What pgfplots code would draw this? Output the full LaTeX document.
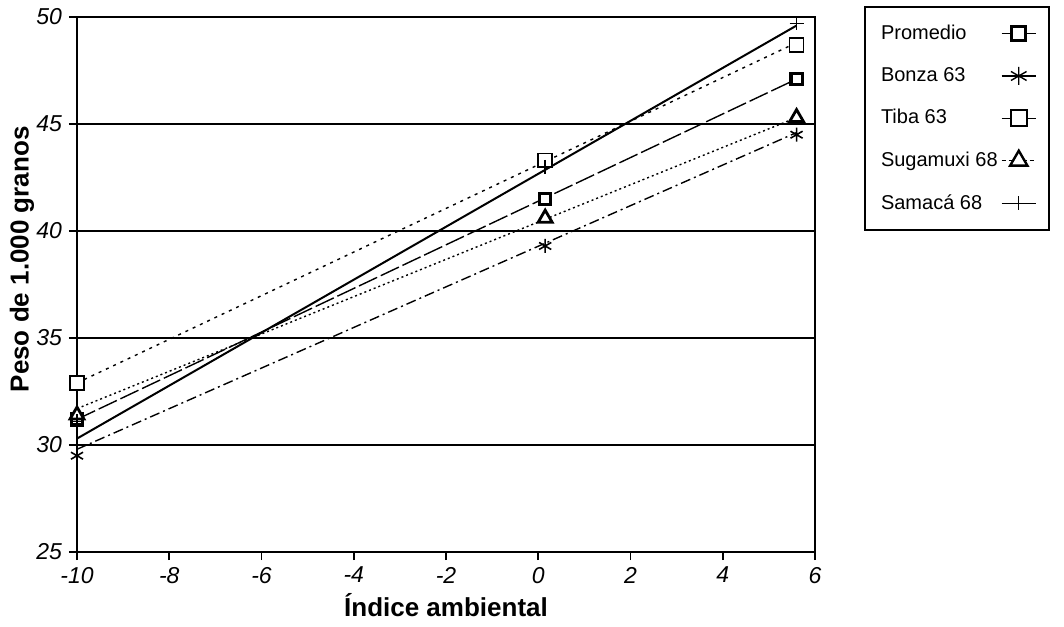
\documentclass[border=0pt]{standalone}
\usepackage{fontspec}
\setmainfont{Liberation Sans}
\usepackage{pgfplots}
\pgfplotsset{compat=1.18}

\begin{document}
\begin{tikzpicture}
\useasboundingbox (-38.5pt,-37pt) rectangle (493.5pt,276pt);
\begin{axis}[
  at={(0,0)}, anchor=south west,
  scale only axis, width=369pt, height=267.5pt,
  xmin=-10, xmax=6, ymin=25, ymax=50,
  xtick={-10,-8,-6,-4,-2,0,2,4,6},
  xticklabels={-10,-8,-6,-4,-2,0,2,4,6},
  ytick={25,30,35,40,45,50},
  yticklabels={25,30,35,40,45,50},
  tick label style={font=\fontsize{11.5}{13}\selectfont\itshape},
  xtick pos=bottom, ytick pos=left, tick align=outside,
  major tick length=4pt,
  tick style={black, line width=0.8pt},
  ymajorgrids, grid style={black, line width=0.9pt},
  axis line style={line width=1pt},
  xlabel={Índice ambiental},
  ylabel={Peso de 1.000 granos},
  label style={font=\fontsize{13}{15}\selectfont\bfseries},
  xlabel style={at={(axis description cs:0.5,-0.099)}, anchor=center},
  ylabel style={at={(axis description cs:-0.0745,0.547)}, anchor=center},
  legend style={at={(1,1)}, anchor=north west, xshift=24.5pt, yshift=5.5pt,
    draw=black, line width=1pt, font=\fontsize{10}{12}\selectfont,
    row sep=8.5pt, inner xsep=6pt, inner ysep=7pt},
  legend plot pos=right,
  legend cell align=left,
]
% regression lines
\addplot[forget plot, black, line width=1pt] coordinates {(-10,30.3) (5.6,49.6)}; % Samaca
\addplot[forget plot, black, line width=0.7pt, dash pattern=on 10pt off 2pt] coordinates {(-10,31.2) (5.6,47.1)}; % Promedio
\addplot[forget plot, black, line width=0.7pt, dash pattern=on 1.5pt off 2.5pt] coordinates {(-10,32.9) (5.6,48.8)}; % Tiba
\addplot[forget plot, black, line width=0.7pt, dash pattern=on 1pt off 1.5pt] coordinates {(-10,31.7) (5.6,45.3)}; % Sugamuxi
\addplot[forget plot, black, line width=0.7pt, dash pattern=on 5pt off 2pt on 1pt off 2pt] coordinates {(-10,29.8) (5.6,44.6)}; % Bonza
% observed points
\addplot[forget plot, only marks, mark=square*, mark size=2.8pt, mark options={draw=black, fill=white, line width=1.6pt}] coordinates {(-10,31.2) (0.15,41.5) (5.6,47.1)};
\addplot[forget plot, only marks, mark=asterisk, mark size=3.5pt, mark options={black, line width=0.8pt}] coordinates {(-10,29.5) (0.15,39.3) (5.6,44.5)};
\addplot[forget plot, only marks, mark=square*, mark size=3.5pt, mark options={draw=black, fill=white, line width=0.7pt}] coordinates {(-10,32.9) (0.15,43.3) (5.6,48.7)};
\addplot[forget plot, only marks, mark=triangle*, mark size=4pt, mark options={draw=black, fill=white, line width=1.4pt}] coordinates {(-10,31.4) (0.15,40.6) (5.6,45.3)};
\addplot[forget plot, only marks, mark=+, mark size=3.5pt, mark options={black, line width=0.8pt}] coordinates {(-10,31.1) (0.15,43.0) (5.6,49.7)};
% legend
\addlegendimage{black, line width=0.7pt, mark=square*, mark size=3.5pt, mark options={draw=black, fill=white, line width=1.4pt}}
\addlegendentry{\makebox[58pt][l]{Promedio}}
\addlegendimage{black, line width=0.7pt, mark=asterisk, mark size=4.5pt, mark options={line width=0.7pt}}
\addlegendentry{\makebox[58pt][l]{Bonza 63}}
\addlegendimage{black, line width=0.7pt, mark=square*, mark size=4pt, mark options={solid, draw=black, fill=white, line width=0.8pt}}
\addlegendentry{\makebox[58pt][l]{Tiba 63}}
\addlegendimage{black, line width=0.7pt, dash pattern=on 2pt off 1.5pt, mark=triangle*, mark size=5pt, mark options={solid, draw=black, fill=white, line width=1.2pt}}
\addlegendentry{\makebox[58pt][l]{Sugamuxi 68}}
\addlegendimage{black, line width=0.7pt, mark=+, mark size=3.5pt, mark options={line width=0.7pt}}
\addlegendentry{\makebox[58pt][l]{Samacá 68}}
\end{axis}
\end{tikzpicture}
\end{document}
